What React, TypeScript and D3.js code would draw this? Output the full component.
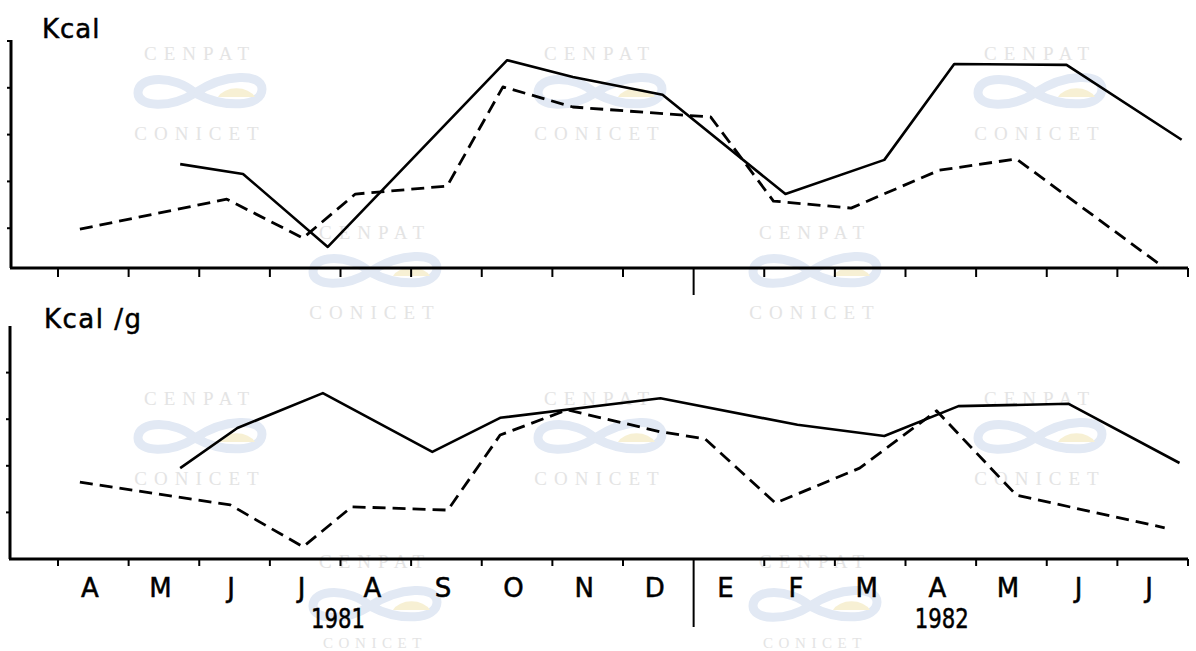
import React from "react";
import * as d3 from "d3";

// Months from April 1981 to July 1982 (Spanish initials; E = enero)
const monthLabels = ["A", "M", "J", "J", "A", "S", "O", "N", "D", "E", "F", "M", "A", "M", "J", "J"];
const yearLabels = ["1981", "1982"];
const yearPositions = [3.95, 12.5];
const yearBreak = 9;

// Upper panel: Kcal (x in months since 1 April 1981)
const kcalSolidMonth = [1.73, 2.62, 3.82, 6.36, 7.29, 8.56, 10.3, 11.7, 12.69, 14.28, 15.91];
const kcalSolidValue = [2.37, 2.16, 0.6, 4.59, 4.23, 3.85, 1.73, 2.46, 4.51, 4.49, 2.89];
const kcalDashedMonth = [0.31, 2.39, 3.47, 4.21, 5.51, 6.3, 7.29, 8.81, 9.24, 10.13, 11.23, 12.48, 13.57, 15.65];
const kcalDashedValue = [0.98, 1.62, 0.79, 1.73, 1.9, 4.02, 3.59, 3.42, 3.38, 1.58, 1.43, 2.24, 2.48, 0.17];

// Lower panel: Kcal/g
const kcalgSolidMonth = [1.73, 2.54, 3.75, 5.3, 6.26, 8.53, 10.47, 11.7, 12.75, 14.31, 15.88];
const kcalgSolidValue = [1.95, 2.81, 3.56, 2.3, 3.03, 3.45, 2.88, 2.64, 3.28, 3.33, 2.06];
const kcalgDashedMonth = [0.31, 2.44, 3.47, 4.16, 5.52, 6.26, 7.21, 8.53, 9.16, 10.16, 11.35, 12.44, 13.57, 15.67];
const kcalgDashedValue = [1.65, 1.16, 0.26, 1.12, 1.05, 2.66, 3.2, 2.73, 2.58, 1.2, 1.95, 3.18, 1.37, 0.67];

const yTicks = [1, 2, 3, 4, 5];

const W = 1196;
const H = 651;

const x = d3.scaleLinear().domain([0, 16]).range([58, 1188]);
const yTop = d3.scaleLinear().domain([0.15, 5]).range([268, 41]);
const yBot = d3.scaleLinear().domain([0, 5]).range([559, 326]);

const zip = (xs: number[], ys: number[]) => xs.map((v, i) => [v, ys[i]] as [number, number]);

function makeLine(ys: d3.ScaleLinear<number, number>) {
  return d3
    .line<[number, number]>()
    .x((d) => x(d[0]))
    .y((d) => ys(d[1]));
}

const FONT = "'DejaVu Sans', sans-serif";

// Faint archive stamp repeated across the sheet
type StampSpec = { cx: number; cy: number; topDy: number; botDy: number; botSize: number };
const stampSpecs: StampSpec[] = [
  { cx: 200, cy: 53, topDy: 7, botDy: 87, botSize: 19 },
  { cx: 600, cy: 53, topDy: 7, botDy: 87, botSize: 19 },
  { cx: 1040, cy: 53, topDy: 7, botDy: 87, botSize: 19 },
  { cx: 375, cy: 232, topDy: 7, botDy: 87, botSize: 19 },
  { cx: 815, cy: 232, topDy: 7, botDy: 87, botSize: 19 },
  { cx: 200, cy: 398, topDy: 7, botDy: 87, botSize: 19 },
  { cx: 600, cy: 398, topDy: 7, botDy: 87, botSize: 19 },
  { cx: 1040, cy: 398, topDy: 7, botDy: 87, botSize: 19 },
  { cx: 375, cy: 566, topDy: 2, botDy: 81.5, botSize: 15 },
  { cx: 815, cy: 566, topDy: 2, botDy: 81.5, botSize: 15 },
];

function Stamp({ cx, cy, topDy, botDy, botSize }: StampSpec) {
  const ly = cy + 40;
  return (
    <g>
      <text
        x={cx}
        y={cy + topDy}
        textAnchor="middle"
        fontFamily="'Liberation Serif', serif"
        fontSize={19}
        letterSpacing={7}
        fill="#e4e4e4"
      >
        CENPAT
      </text>
      <path
        d={`M${cx - 5},${ly} C${cx - 25},${ly - 18} ${cx - 62},${ly - 18} ${cx - 62},${ly} C${cx - 62},${ly + 14} ${cx - 30},${ly + 16} ${cx - 5},${ly}`}
        fill="none"
        stroke="#e2e9f4"
        strokeWidth={9}
      />
      <path
        d={`M${cx - 5},${ly} C${cx + 25},${ly - 20} ${cx + 62},${ly - 20} ${cx + 62},${ly - 4} C${cx + 62},${ly + 14} ${cx + 25},${ly + 16} ${cx - 5},${ly}`}
        fill="none"
        stroke="#e2e9f4"
        strokeWidth={9}
      />
      <path d={`M${cx + 18},${ly + 4} A20,14 0 0,1 ${cx + 55},${ly + 4} Z`} fill="#f7f0d4" />
      <text
        x={cx}
        y={cy + botDy}
        textAnchor="middle"
        fontFamily="'Liberation Serif', serif"
        fontSize={botSize}
        letterSpacing={botSize * 0.37}
        fill="#e4e4e4"
      >
        CONICET
      </text>
    </g>
  );
}

export default function App() {
  const lineTop = makeLine(yTop);
  const lineBot = makeLine(yBot);
  const monthTicks = d3.range(0, 17);

  const axisStroke = 3;
  const labelStroke = { stroke: "#000", strokeWidth: 0.5 };

  return (
    <svg
      width={W}
      height={H}
      viewBox={`0 0 ${W} ${H}`}
      style={{ position: "absolute", left: 0, top: 0, background: "#fff" }}
    >
      <rect width={W} height={H} fill="#fff" />
      {stampSpecs.map((s, i) => (
        <Stamp key={i} {...s} />
      ))}

      {/* Upper panel */}
      <g>
        <text x={42} y={38} fontFamily={FONT} fontSize={26} fill="#000" letterSpacing={1} {...labelStroke}>
          Kcal
        </text>
        <line x1={11} x2={11} y1={yTop(5) - 1} y2={yTop(0.15)} stroke="#000" strokeWidth={axisStroke} />
        {yTicks.map((t) => (
          <line key={t} x1={7} x2={11} y1={yTop(t)} y2={yTop(t)} stroke="#000" strokeWidth={2} />
        ))}
        <line x1={10} x2={x(16)} y1={yTop(0.15)} y2={yTop(0.15)} stroke="#000" strokeWidth={axisStroke} />
        {monthTicks.map((m) => (
          <line
            key={m}
            x1={x(m)}
            x2={x(m)}
            y1={yTop(0.15)}
            y2={yTop(0.15) + (m === yearBreak ? 27 : 9)}
            stroke="#000"
            strokeWidth={2}
          />
        ))}
        <path
          d={lineTop(zip(kcalSolidMonth, kcalSolidValue)) || ""}
          fill="none"
          stroke="#000"
          strokeWidth={2.6}
          strokeLinejoin="round"
        />
        <path
          d={lineTop(zip(kcalDashedMonth, kcalDashedValue)) || ""}
          fill="none"
          stroke="#000"
          strokeWidth={2.8}
          strokeDasharray="13 7"
          strokeLinejoin="round"
        />
      </g>

      {/* Lower panel */}
      <g>
        <text x={44} y={328} fontFamily={FONT} fontSize={26} fill="#000" letterSpacing={1.5} {...labelStroke}>
          Kcal /g
        </text>
        <line x1={10} x2={10} y1={yBot(5)} y2={yBot(0)} stroke="#000" strokeWidth={axisStroke} />
        {yTicks.slice(0, 4).map((t) => (
          <line key={t} x1={6} x2={10} y1={yBot(t)} y2={yBot(t)} stroke="#000" strokeWidth={2} />
        ))}
        <line x1={9} x2={x(16)} y1={yBot(0)} y2={yBot(0)} stroke="#000" strokeWidth={axisStroke} />
        {monthTicks.map((m) => (
          <line
            key={m}
            x1={x(m)}
            x2={x(m)}
            y1={yBot(0)}
            y2={yBot(0) + (m === yearBreak ? 68 : 7)}
            stroke="#000"
            strokeWidth={2}
          />
        ))}
        <path
          d={lineBot(zip(kcalgSolidMonth, kcalgSolidValue)) || ""}
          fill="none"
          stroke="#000"
          strokeWidth={2.6}
          strokeLinejoin="round"
        />
        <path
          d={lineBot(zip(kcalgDashedMonth, kcalgDashedValue)) || ""}
          fill="none"
          stroke="#000"
          strokeWidth={2.8}
          strokeDasharray="13 7"
          strokeLinejoin="round"
        />
        {monthLabels.map((lab, i) => (
          <text
            key={i}
            x={x(i + 0.45)}
            y={597}
            textAnchor="middle"
            fontFamily={FONT}
            fontSize={26}
            fill="#000"
            {...labelStroke}
          >
            {lab}
          </text>
        ))}
        {yearLabels.map((lab, i) => (
          <text
            key={lab}
            x={x(yearPositions[i]) - 26}
            y={628}
            fontFamily={FONT}
            fontSize={27}
            textLength={54}
            lengthAdjust="spacingAndGlyphs"
            fill="#000"
            {...labelStroke}
          >
            {lab}
          </text>
        ))}
      </g>
    </svg>
  );
}
